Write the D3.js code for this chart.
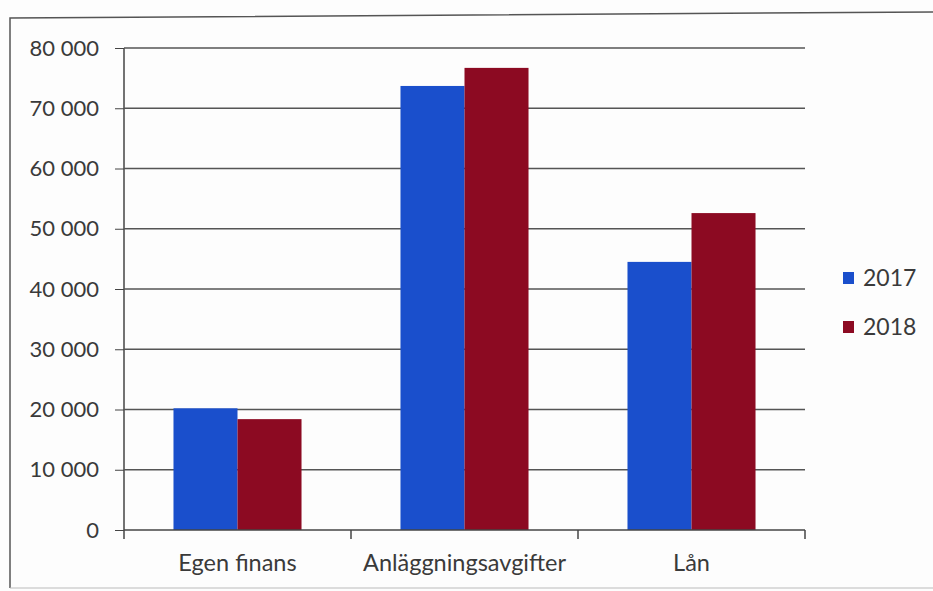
<!DOCTYPE html>
<html><head><meta charset="utf-8">
<script src="https://cdn.jsdelivr.net/npm/d3@7"></script>
<style>html,body{margin:0;padding:0;background:#fdfdfd;}svg{display:block;}</style>
</head><body>
<svg id="chart" width="933" height="591"></svg>
<script>
const categories = ["Egen finans", "Anläggningsavgifter", "Lån"];
const seriesNames = ["2017", "2018"];
const values2017 = [20200, 73700, 44500];
const values2018 = [18400, 76700, 52600];
const yTicks = [0, 10000, 20000, 30000, 40000, 50000, 60000, 70000, 80000];
const colors = ["#1a4fcc", "#8c0a22"];

(function(){
const svg = d3.select("#chart");
const font = "Lato, 'Open Sans', sans-serif";
const pLeft = 124, pRight = 805, pTop = 48, pBottom = 530;

svg.append("path").attr("d", "M10,588 L10,18 L933,12").attr("fill","none").attr("stroke","#555").attr("stroke-width",1.5);
svg.append("line").attr("x1",10).attr("x2",933).attr("y1",588).attr("y2",588).attr("stroke","#bbb").attr("stroke-width",1);

const x0 = d3.scaleBand().domain(categories).range([pLeft, pRight]).paddingInner(0).paddingOuter(0);
const x1 = d3.scaleBand().domain(seriesNames).range([0, x0.bandwidth()]).paddingInner(0).paddingOuter(0.773);
const y = d3.scaleLinear().domain([0, 80000]).range([pBottom, pTop]);

const fmt = v => d3.format(",")(v).replace(/,/g, " ");

const yAxis = d3.axisLeft(y).tickValues(yTicks).tickFormat(fmt).tickSize(9).tickPadding(16);
const gy = svg.append("g").attr("transform", `translate(${pLeft},0)`).call(yAxis);
gy.select(".domain").attr("stroke","#444").attr("stroke-width",1.5).attr("d", `M0,${pTop}V${pBottom}`);
gy.selectAll(".tick line").attr("stroke","#444");
gy.selectAll(".tick text").attr("font-family", font).attr("font-size", 22).attr("fill","#3a3a3a");
svg.append("g").selectAll("line").data(yTicks.filter(d=>d>0)).join("line")
  .attr("x1", pLeft).attr("x2", pRight).attr("y1", d=>y(d)).attr("y2", d=>y(d))
  .attr("stroke","#555").attr("stroke-width",1.3);

const data = categories.map((c,i)=>({cat:c, vals:[values2017[i], values2018[i]]}));
const g = svg.append("g");
data.forEach(d=>{
  d.vals.forEach((v,j)=>{
    g.append("rect").attr("x", x0(d.cat)+x1(seriesNames[j])).attr("width", x1.bandwidth())
      .attr("y", y(v)).attr("height", y(0)-y(v)).attr("fill", colors[j]);
  });
});

const xAxis = d3.axisBottom(x0).tickSize(0).tickPadding(24);
const gx = svg.append("g").attr("transform", `translate(0,${pBottom})`).call(xAxis);
gx.select(".domain").attr("stroke","#444").attr("stroke-width",1.5).attr("d", `M${pLeft},0H${pRight}`);
gx.selectAll(".tick text").attr("font-family", font).attr("font-size", 23.5).attr("fill","#3a3a3a");
const bounds = [pLeft, ...categories.map(c=>x0(c)+x0.bandwidth())];
svg.append("g").selectAll("line").data(bounds).join("line")
  .attr("x1", d=>d).attr("x2", d=>d).attr("y1", pBottom).attr("y2", pBottom+9)
  .attr("stroke","#444").attr("stroke-width",1.5);

const lg = svg.append("g").attr("transform","translate(843,272)");
seriesNames.forEach((s,i)=>{
  const row = lg.append("g").attr("transform", `translate(0,${i*49})`);
  row.append("rect").attr("width",11).attr("height",12).attr("fill",colors[i]);
  row.append("text").attr("x",20).attr("y",14).attr("font-family",font).attr("font-size",23).attr("fill","#3a3a3a").text(s);
});
})();
</script>
</body></html>
